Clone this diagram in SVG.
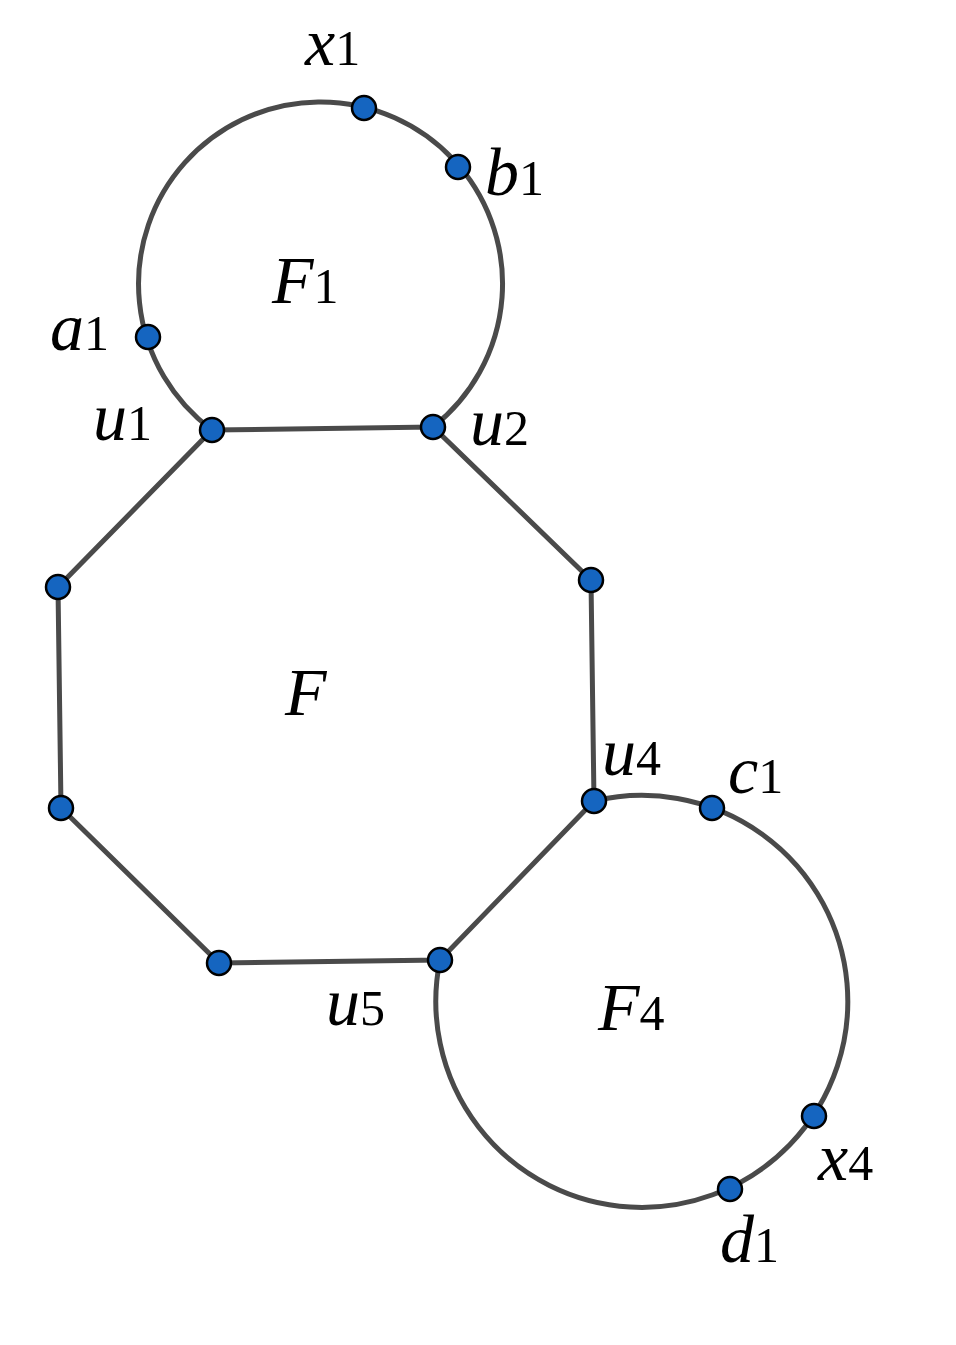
<svg xmlns="http://www.w3.org/2000/svg" width="956" height="1345" viewBox="0 0 956 1345">
<style>
.e{fill:none;stroke:#4a4a4a;stroke-width:5}
.n{fill:#1565c0;stroke:#000;stroke-width:2.5}
text{font-family:"Liberation Serif",serif;font-style:italic;font-size:68px;fill:#000}
.s{font-style:normal;font-size:50px}
</style>
<rect width="956" height="1345" fill="#fff"/>
<g id="connectors">
<path class="e" d="M212,430 A182,182 0 1 1 433,427"/>
<path class="e" d="M594,801 A206,206 0 1 1 440,960"/>
<polygon class="e" points="212,430 433,427 591,580 594,801 440,960 219,963 61,808 58,587"/>
</g>
<g id="nodes">
<circle id="u1" class="n" cx="212" cy="430" r="12"/>
<circle id="u2" class="n" cx="433" cy="427" r="12"/>
<circle id="v3" class="n" cx="591" cy="580" r="12"/>
<circle id="u4" class="n" cx="594" cy="801" r="12"/>
<circle id="u5" class="n" cx="440" cy="960" r="12"/>
<circle id="v6" class="n" cx="219" cy="963" r="12"/>
<circle id="v7" class="n" cx="61" cy="808" r="12"/>
<circle id="v8" class="n" cx="58" cy="587" r="12"/>
<circle id="x1" class="n" cx="364" cy="108" r="12"/>
<circle id="b1" class="n" cx="458" cy="167" r="12"/>
<circle id="a1" class="n" cx="148" cy="337" r="12"/>
<circle id="c1" class="n" cx="712" cy="808" r="12"/>
<circle id="x4" class="n" cx="814" cy="1116" r="12"/>
<circle id="d1" class="n" cx="730" cy="1189" r="12"/>
</g>
<g id="labels">
<text x="305" y="65">x<tspan class="s">1</tspan></text>
<text x="485" y="195">b<tspan class="s">1</tspan></text>
<text x="50" y="350">a<tspan class="s">1</tspan></text>
<text x="93" y="440">u<tspan class="s">1</tspan></text>
<text x="470" y="445">u<tspan class="s">2</tspan></text>
<text x="602" y="775">u<tspan class="s">4</tspan></text>
<text x="728" y="793">c<tspan class="s">1</tspan></text>
<text x="326" y="1025">u<tspan class="s">5</tspan></text>
<text x="818" y="1180">x<tspan class="s">4</tspan></text>
<text x="720" y="1262">d<tspan class="s">1</tspan></text>
<text x="272" y="303">F<tspan class="s">1</tspan></text>
<text x="285" y="715">F</text>
<text x="598" y="1030">F<tspan class="s">4</tspan></text>
</g>
</svg>
